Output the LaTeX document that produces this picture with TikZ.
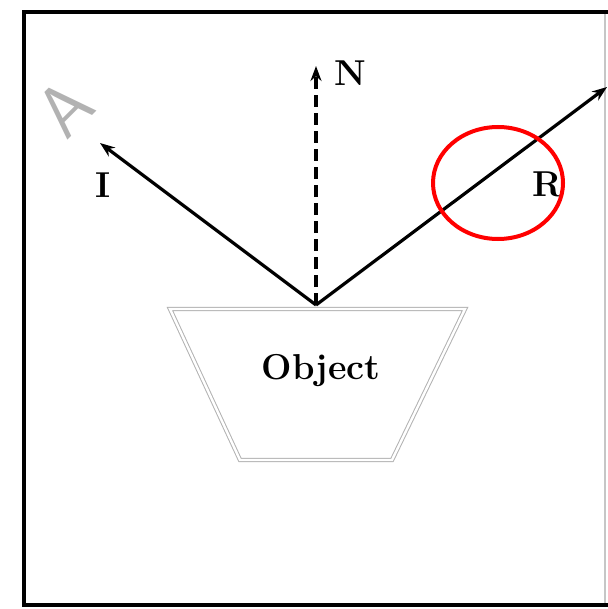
\documentclass[tikz,border=0pt]{standalone}
\usetikzlibrary{arrows.meta,positioning}
\begin{document}
\begin{tikzpicture}[x=0.5pt,y=-0.5pt,>={Stealth[length=7.5pt,width=5.5pt]}]
    \tikzset{ray/.style={->,line width=1.6pt,black},
      lbl/.style={font=\fontsize{18}{20}\selectfont\bfseries,inner sep=0pt},
      body/.style={draw=gray!60,double=white,double distance=1.2pt,line width=0.5pt}}
    \useasboundingbox (0,0) rectangle (608,609);
    % frame
    \draw[line width=2pt] (612,605) -- (24,605) -- (24,12) -- (612,12);
    \draw[gray!45,line width=0.6pt] (605,14) -- (605,603);
    % object and rays
    \coordinate (P) at (316,305);
    \coordinate (Iend) at (100,143);
    \coordinate (Nend) at (316,66);
    \coordinate (Rend) at (607,87);
    \draw[body] (170,309) -- (465,309) -- (392,460) -- (240,460) -- cycle;
    \node[lbl] (obj) at (321,371) {Object};
    \draw[ray] (P) -- (Iend);
    \draw[ray,dashed,dash pattern=on 6pt off 3pt] (P) -- (Nend);
    \draw[ray] (P) -- (Rend);
    \node[lbl] (ilbl) at (103,185) {I};
    \node[lbl] (nlbl) at (350,73) {N};
    \node[lbl] (rlbl) at (548,184) {R};
    \node[gray!60,rotate=45,font=\sffamily\fontsize{36}{36}\selectfont,inner sep=0pt] (axis) at (65,108) {A};
    \draw[red,line width=2pt] (498,183) ellipse [x radius=65,y radius=56];
  \end{tikzpicture}
\end{document}
